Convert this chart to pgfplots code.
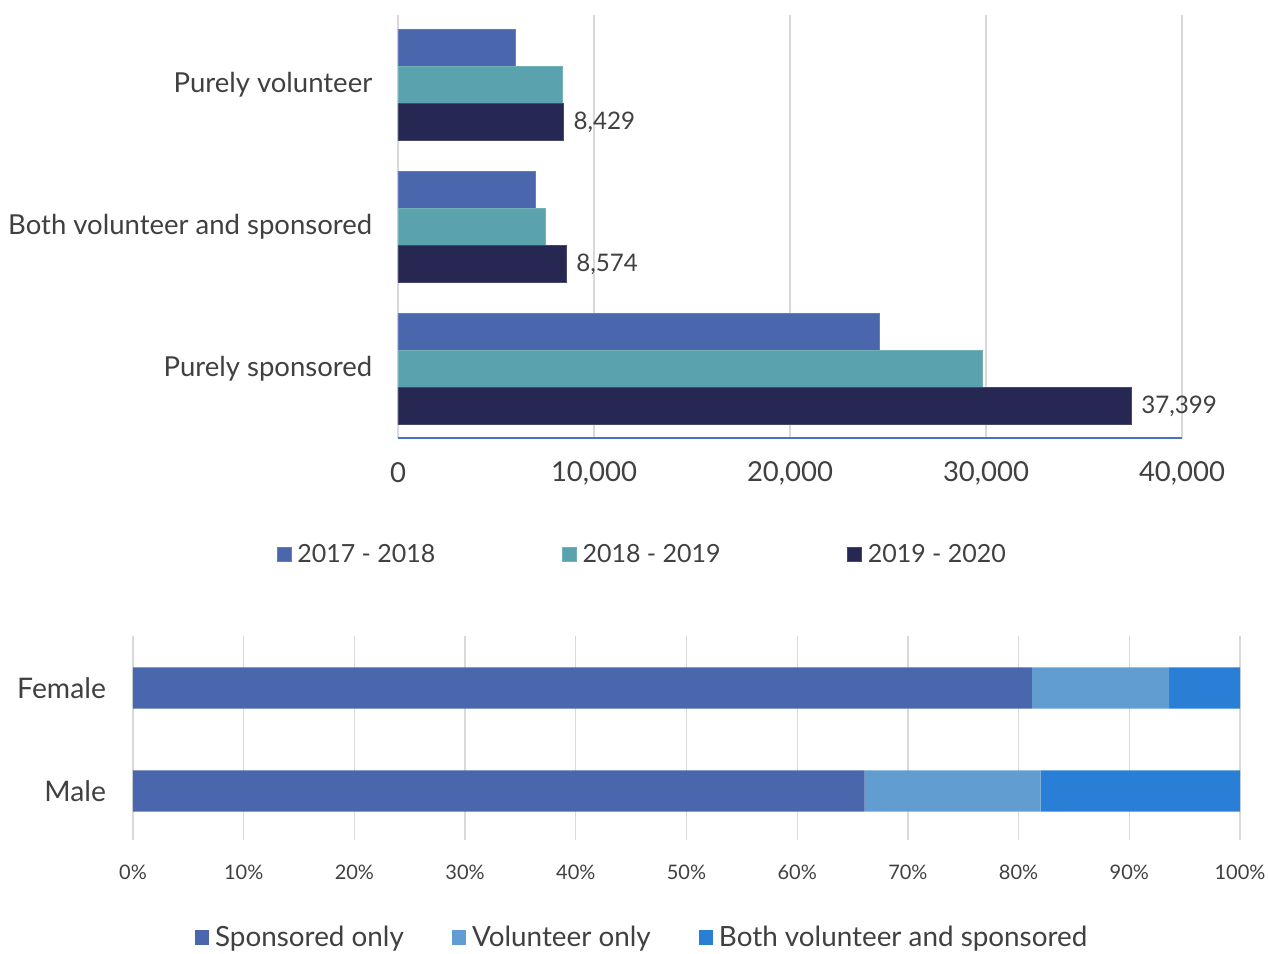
\documentclass[border=0pt]{standalone}
\usepackage{fontspec}
\setmainfont{Lato}
\usepackage{pgfplots}
\pgfplotsset{compat=1.18}
\definecolor{cA}{HTML}{4A66AC}
\definecolor{cB}{HTML}{5AA2AE}
\definecolor{cC}{HTML}{262853}
\definecolor{sA}{HTML}{4A66AC}
\definecolor{sB}{HTML}{629DD1}
\definecolor{sC}{HTML}{297FD5}
\definecolor{axblue}{HTML}{4472C4}
\definecolor{txt}{HTML}{404040}
\definecolor{gridc}{HTML}{D9D9D9}
\begin{document}
\begin{tikzpicture}
\path[use as bounding box] (0,0) rectangle (760.8pt,572.4pt);
% ---------------- top chart ----------------
\begin{axis}[
  at={(238.8pt,309.6pt)}, anchor=south west,
  scale only axis, width=470.4pt, height=253.8pt,
  xbar, bar width=0.26,
  xmin=0, xmax=40000, ymin=-0.486, ymax=2.493,
  xtick={0,10000,20000,30000,40000},
  scaled x ticks=false,
  /pgf/number format/1000 sep={,},
  /pgf/number format/assume math mode=true,
  ytick={0,1,2},
  yticklabels={Purely sponsored, Both volunteer and sponsored, Purely volunteer},
  axis x line*=bottom, axis y line*=left,
  x axis line style={color=axblue, line width=0.9pt, -},
  y axis line style={draw=none},
  tick style={draw=none},
  xmajorgrids, major grid style={draw=gridc, line width=0.8pt},
  xticklabel style={font=\fontsize{16.5}{18}\selectfont, text=txt, anchor=center, yshift=-21pt},
  yticklabel style={font=\fontsize{16.5}{18}\selectfont, text=txt, anchor=east, inner sep=0pt, xshift=-11pt},
  legend columns=3,
  legend style={draw=none, at={(0.3125,-0.276)}, anchor=center,
    font=\fontsize{15}{18}\selectfont, text=txt,
    /tikz/every even column/.append style={column sep=74pt}},
  legend image code/.code={\fill[#1] (0pt,-4.2pt) rectangle (8.4pt,4.2pt);},
]
\addplot[fill=cA, draw=cA!85!white, bar shift=0.26] coordinates {(24540,0) (6990,1) (5970,2)};
\addlegendentry{\hspace{1.5pt}2017 - 2018}
\addplot[fill=cB, draw=cB!85!white, bar shift=0] coordinates {(29800,0) (7500,1) (8370,2)};
\addlegendentry{\hspace{1.5pt}2018 - 2019}
\addplot[fill=cC, draw=cC!85!white, bar shift=-0.26,
  nodes near coords, point meta=x,
  every node near coord/.append style={font=\fontsize{14.5}{16}\selectfont, text=txt, anchor=west, inner sep=0pt, xshift=6pt,
    /pgf/number format/1000 sep={,}, /pgf/number format/assume math mode=true}]
  coordinates {(37399,0) (8574,1) (8429,2)};
\addlegendentry{\hspace{1.5pt}2019 - 2020}
\end{axis}
% ---------------- bottom chart ----------------
\begin{axis}[
  at={(79.8pt,68.4pt)}, anchor=south west,
  scale only axis, width=664.2pt, height=122.4pt,
  xbar stacked, bar width=0.4,
  xmin=0, xmax=100, ymin=-0.476, ymax=1.505,
  xtick={0,10,...,100},
  xticklabel={\pgfmathprintnumber{\tick}\%},
  /pgf/number format/assume math mode=true,
  ytick={0,1}, yticklabels={Male, Female},
  axis line style={draw=none},
  tick style={draw=none},
  xmajorgrids, major grid style={draw=gridc, line width=0.8pt},
  xticklabel style={font=\fontsize{12}{14}\selectfont, text=txt, anchor=center, yshift=-19.2pt},
  yticklabel style={font=\fontsize{17}{19}\selectfont, text=txt, anchor=east, inner sep=0pt, xshift=-16pt},
  legend columns=3,
  legend style={draw=none, at={(0.4607,-0.478)}, anchor=center,
    font=\fontsize{16.7}{19}\selectfont, text=txt, inner sep=1pt,
    /tikz/every even column/.append style={column sep=27pt}},
  legend image code/.code={\fill[#1] (0pt,-4.6pt) rectangle (8.4pt,4.6pt);},
]
\addplot[fill=sA, draw=none] coordinates {(66.1,0) (81.2,1)};
\addlegendentry{\hspace{1.5pt}Sponsored only}
\addplot[fill=sB, draw=none] coordinates {(15.9,0) (12.4,1)};
\addlegendentry{\hspace{1.5pt}Volunteer only}
\addplot[fill=sC, draw=none] coordinates {(18.0,0) (6.4,1)};
\addlegendentry{\hspace{1.5pt}Both volunteer and sponsored}
\end{axis}
\end{tikzpicture}
\end{document}
